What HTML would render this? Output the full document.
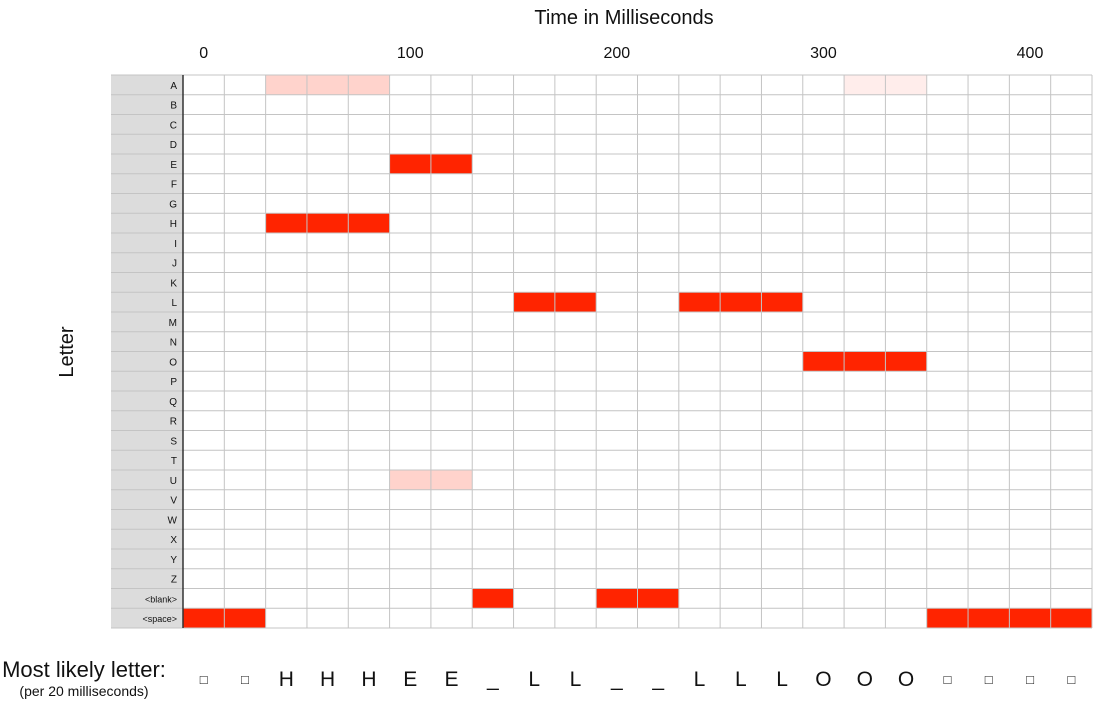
<!DOCTYPE html>
<html><head><meta charset="utf-8"><style>
body{margin:0;background:#fff;width:1100px;height:702px;overflow:hidden;font-family:"Liberation Sans",sans-serif}
</style></head><body>
<svg id="chart" width="1100" height="702" xmlns="http://www.w3.org/2000/svg">
<text x="624" y="24" font-size="20" text-anchor="middle" fill="#111">Time in Milliseconds</text>
<text x="0" y="0" font-size="20" text-anchor="middle" fill="#111" transform="translate(73,352) rotate(-90)">Letter</text>
<text x="84" y="677" font-size="22" text-anchor="middle" fill="#111">Most likely letter:</text>
<text x="84" y="696" font-size="14" text-anchor="middle" fill="#111">(per 20 milliseconds)</text>
<g id="cells"></g><g id="grid"></g><g id="labels"></g>
</svg>
<script>
const rows=["A","B","C","D","E","F","G","H","I","J","K","L","M","N","O","P","Q","R","S","T","U","V","W","X","Y","Z","<blank>","<space>"];
const ticks=[0,100,200,300,400];
const mostLikely=["□","□","H","H","H","E","E","_","L","L","_","_","L","L","L","O","O","O","□","□","□","□"];
const cellRow=["A","A","A","A","A","E","E","H","H","H","L","L","L","L","L","O","O","O","U","U","<blank>","<blank>","<blank>","<space>","<space>","<space>","<space>","<space>","<space>"];
const cellCol=[2,3,4,16,17,5,6,2,3,4,8,9,12,13,14,15,16,17,5,6,7,10,11,0,1,18,19,20,21];
const cellProb=[0.2,0.2,0.2,0.08,0.08,1,1,1,1,1,1,1,1,1,1,1,1,1,0.2,0.2,1,1,1,1,1,1,1,1,1];
const NS="http://www.w3.org/2000/svg";
const X0=183,X1=1092,Y0=75,Y1=628,LX=111,nCols=22,msPerCol=20;
const cw=(X1-X0)/nCols,rh=(Y1-Y0)/rows.length;
const xCol=c=>X0+c*cw, yRow=r=>Y0+rows.indexOf(r)*rh, xMs=ms=>X0+(ms/msPerCol+0.5)*cw;
function mk(t,a,p){const e=document.createElementNS(NS,t);for(const k in a)e.setAttribute(k,a[k]);p.appendChild(e);return e;}
const cells=document.getElementById('cells'),grid=document.getElementById('grid'),labels=document.getElementById('labels');
rows.forEach((r,i)=>{
  const bg=mk('rect',{x:LX,y:yRow(r),width:X0-LX,height:rh,fill:'#dcdcdc'},cells);
  
  
  const t=mk('text',{x:X0-6,y:yRow(r)+rh/2+4,'font-size':r.length>1?9:10,'text-anchor':'end',fill:'#111'},labels);
  t.textContent=r;
  
  
});
cellRow.forEach((r,i)=>{
  const p=cellProb[i];
  const rc=mk('rect',{x:xCol(cellCol[i]),y:yRow(r),width:cw,height:rh,fill:'rgb(255,'+Math.round(255-(255-36)*p)+','+Math.round(255-255*p)+')'},cells);
  
  
});
for(let i=0;i<=rows.length;i++){const l=mk('line',{x1:LX,x2:X1,y1:Y0+i*rh,y2:Y0+i*rh,stroke:'#c4c4c4','stroke-width':1},grid);
  }
for(let c=1;c<=nCols;c++){const l=mk('line',{x1:xCol(c),x2:xCol(c),y1:Y0,y2:Y1,stroke:'#c4c4c4','stroke-width':1},grid);
  }
const ax=mk('line',{x1:X0,x2:X0,y1:Y0,y2:Y1,stroke:'#333','stroke-width':1.5},grid);

ticks.forEach(v=>{const t=mk('text',{x:xMs(v),y:58,'font-size':16,'text-anchor':'middle',fill:'#111'},labels);t.textContent=v;
  });
mostLikely.forEach((s,i)=>{const sq=s==='□';const t=mk('text',{x:X0+(i+0.5)*cw,y:sq?684:686,'font-size':sq?13:21,'text-anchor':'middle',fill:'#111'},labels);t.textContent=s;
  });
</script>
</body></html>
